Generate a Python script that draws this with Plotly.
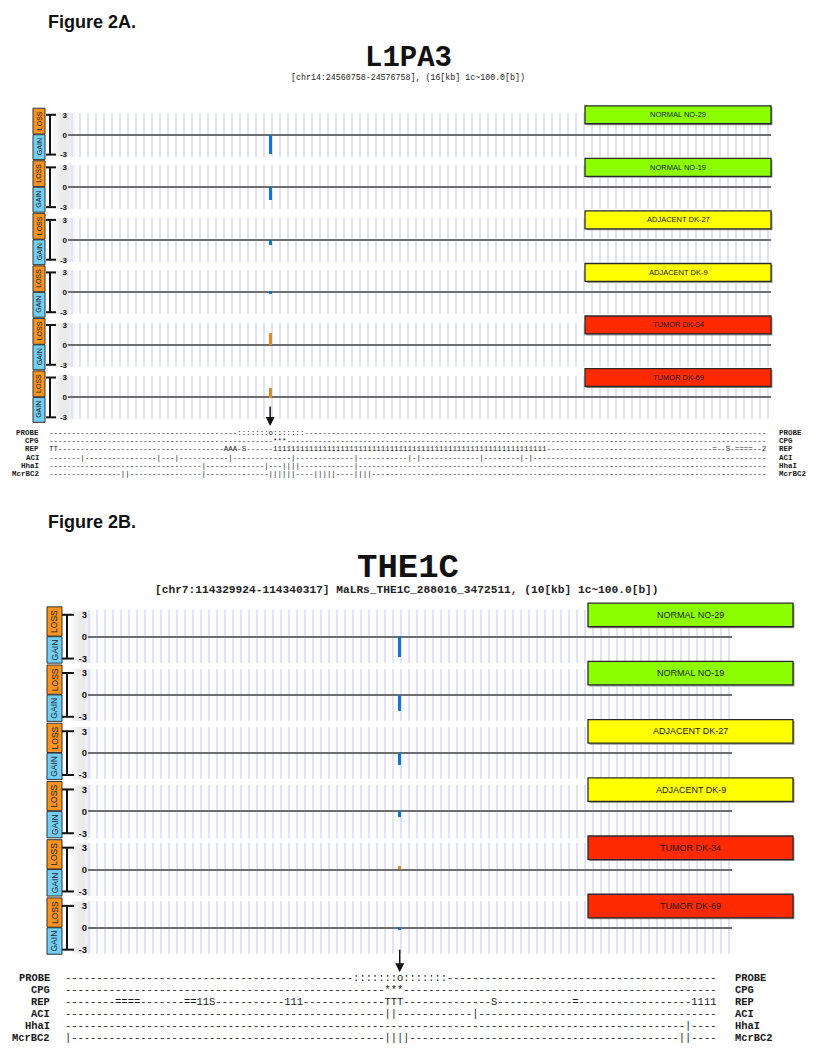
import plotly.graph_objects as go

# page offset: the browser body has an 8px margin, so the figure is sized to fit the window
OFF = 8
W, H = 816 - OFF, 1050 - OFF

# ---------------- data ----------------
SAMPLES = ["NORMAL NO-29", "NORMAL NO-19", "ADJACENT DK-27",
           "ADJACENT DK-9", "TUMOR DK-34", "TUMOR DK-69"]
SAMPLE_COLORS = ["#8cff00", "#8cff00", "#ffff00", "#ffff00", "#ff2a00", "#ff2a00"]

A_TITLE = "L1PA3"
A_SUB = "[chr14:24560758-24576758], (16[kb] 1c~100.0[b])"
A_PROBE_POS = [49.5]                      # position in 100-bp characters
A_VALUES = [-2.9, -1.95, -0.7, -0.3, 1.8, 1.5]

B_TITLE = "THE1C"
B_SUB = "[chr7:114329924-114340317] MaLRs_THE1C_288016_3472511, (10[kb] 1c~100.0[b])"
B_PROBE_POS = [53.5]
B_VALUES = [-2.8, -2.2, -1.6, -0.8, 0.5, -0.4]

TICK_VALS = [-3, 0, 3]
TICK_TEXT = ["-3", "0", "3"]
ROW_LABELS = ["PROBE", "CPG", "REP", "ACI", "HhaI", "McrBC2"]

A_LEN = 160
A_PROBE_MARKS = [(42, ":::::::o:::::::")]
A_CPG_MARKS = [(50, "***")]
A_REP_MARKS = [(0, "TT"), (39, "AAA-S"), (50, "1" * 61), (148, "=--S-====--2")]
A_ACI_CUTS = [7, 24, 28, 40, 54, 68, 80, 82, 96, 105, 107]
A_HHAI_CUTS = [34, 48, 52, 53, 54, 55, 68]
A_MCR_CUTS = [16, 17, 34, 49, 50, 51, 52, 53, 54, 59, 60, 61, 62, 63, 68, 69, 70, 71]

B_LEN = 104
B_PROBE_MARKS = [(46, ":::::::o:::::::")]
B_CPG_MARKS = [(51, "***")]
B_REP_MARKS = [(8, "===="), (19, "==11S"), (35, "111"), (51, "TTT"),
               (68, "S"), (81, "="), (100, "1111")]
B_ACI_CUTS = [51, 52, 65]
B_HHAI_CUTS = [99]
B_MCR_CUTS = [0, 51, 52, 53, 54, 98, 99]


def track(n, marks):
    s = ["-"] * n
    for pos, txt in marks:
        for k, ch in enumerate(txt):
            s[pos + k] = ch
    return "".join(s)


def cuts(n, positions):
    return track(n, [(p, "|") for p in positions])


A_ROWS = [track(A_LEN, A_PROBE_MARKS), track(A_LEN, A_CPG_MARKS), track(A_LEN, A_REP_MARKS),
          cuts(A_LEN, A_ACI_CUTS), cuts(A_LEN, A_HHAI_CUTS), cuts(A_LEN, A_MCR_CUTS)]
B_ROWS = [track(B_LEN, B_PROBE_MARKS), track(B_LEN, B_CPG_MARKS), track(B_LEN, B_REP_MARKS),
          cuts(B_LEN, B_ACI_CUTS), cuts(B_LEN, B_HHAI_CUTS), cuts(B_LEN, B_MCR_CUTS)]


# ---------------- layout helpers (window pixel -> paper) ----------------
def PX(p):
    return (p - OFF) / W


def PY(p):
    return 1 - (p - OFF) / H


MONO = "Liberation Mono, Courier New, monospace"
SANS = "Liberation Sans, Arial, Helvetica, sans-serif"
BLUE = "#0a78d6"
ORANGE = "#e48a1c"
LOSS_C = "#f7931e"
GAIN_C = "#72cff3"
GRID_C = "#e2e2f7"

panels = [
    dict(values=A_VALUES, pos=A_PROBE_POS, z0=133.3, dz=52.8, half=22, rng=3.3,
         xdom=(68, 771), char0=48.0, cw=4.4875, grid0=767.7, bw=0.7,
         box=(33, 45), lossTop=26.6, gainBot=25, brX=50, brHalf=20, brT=(46, 56),
         leg=(585, 771), legT=29, legB=11, legFont=7.5, lgFont=7, tickFont=8,
         haze=(52, 78)),
    dict(values=B_VALUES, pos=B_PROBE_POS, z0=637.7, dz=58.5, half=26.5, rng=3.61,
         xdom=(88, 732), char0=64.3, cw=6.27, grid0=89.3, bw=0.5,
         box=(47, 62), lossTop=30, gainBot=26.6, brX=67, brHalf=22, brT=(62, 74),
         leg=(588, 793), legT=33.7, legB=10, legFont=9, lgFont=8.5, tickFont=9.5,
         haze=(70, 94)),
]

fig = go.Figure()
layout = {}
shapes = []
annotations = []


def note(text, x, y, font, xanchor="center", yanchor="middle", **kw):
    d = dict(text=text, x=x, y=y, xref="paper", yref="paper", showarrow=False,
             xanchor=xanchor, yanchor=yanchor, font=font, borderpad=0)
    d.update(kw)
    annotations.append(d)


for pi, P in enumerate(panels):
    xname = "x" if pi == 0 else "x2"
    xkey = "xaxis" if pi == 0 else "xaxis2"
    r0 = (P["xdom"][0] - P["char0"]) / P["cw"]
    r1 = (P["xdom"][1] - P["char0"]) / P["cw"]
    last_axis = None
    for ti in range(6):
        k = pi * 6 + ti + 1
        yname = "y" if k == 1 else f"y{k}"
        ykey = "yaxis" if k == 1 else f"yaxis{k}"
        z = P["z0"] + P["dz"] * ti
        layout[ykey] = dict(
            domain=[PY(z + P["half"]), PY(z - P["half"])],
            range=[-P["rng"], P["rng"]], anchor=xname,
            tickmode="array", tickvals=TICK_VALS, ticktext=TICK_TEXT,
            ticks="", showgrid=False, zeroline=True, zerolinecolor="#6e6e6e",
            zerolinewidth=1.5, showline=False, fixedrange=True,
            tickfont=dict(family=SANS, size=P["tickFont"], color="#111", weight="bold"),
        )
        last_axis = yname
        v = P["values"][ti]
        fig.add_trace(go.Bar(
            x=P["pos"], y=[v], width=P["bw"], xaxis=xname, yaxis=yname,
            marker=dict(color=BLUE if v < 0 else ORANGE, line=dict(width=0)),
            showlegend=False, hoverinfo="skip"))

        # soft grey haze left of the plotting area
        hx0, hx1 = P["haze"]
        for j in range(4):
            shapes.append(dict(type="rect", xref="paper", yref="paper", layer="below",
                               x0=PX(hx0 + 2.5 * j), x1=PX(hx1 - 3 * j),
                               y0=PY(z + P["half"]), y1=PY(z - P["half"]),
                               fillcolor="rgba(0,0,0,0.018)", line=dict(width=0)))

        # LOSS / GAIN boxes
        bx0, bx1 = P["box"]
        bxc = PX((bx0 + bx1) / 2)
        shapes.append(dict(type="rect", xref="paper", yref="paper",
                           x0=PX(bx0), x1=PX(bx1), y0=PY(z - 0.6), y1=PY(z - P["lossTop"]),
                           fillcolor=LOSS_C, line=dict(color="#333", width=1)))
        shapes.append(dict(type="rect", xref="paper", yref="paper",
                           x0=PX(bx0), x1=PX(bx1), y0=PY(z + P["gainBot"]), y1=PY(z),
                           fillcolor=GAIN_C, line=dict(color="#333", width=1)))
        note("LOSS", bxc, PY(z - P["lossTop"] / 2 - 0.3),
             dict(family=SANS, size=P["lgFont"], color="#222"), textangle=-90)
        note("GAIN", bxc, PY(z + P["gainBot"] / 2),
             dict(family=SANS, size=P["lgFont"], color="#222"), textangle=-90)
        # bracket
        bxl = P["brX"]
        shapes.append(dict(type="line", xref="paper", yref="paper", x0=PX(bxl), x1=PX(bxl),
                           y0=PY(z - P["brHalf"]), y1=PY(z + P["brHalf"]),
                           line=dict(color="#111", width=2)))
        for yy in (z - P["brHalf"], z + P["brHalf"]):
            shapes.append(dict(type="line", xref="paper", yref="paper",
                               x0=PX(P["brT"][0]), x1=PX(P["brT"][1]), y0=PY(yy), y1=PY(yy),
                               line=dict(color="#111", width=2)))
        # sample legend box
        lx0, lx1 = P["leg"]
        shapes.append(dict(type="rect", xref="paper", yref="paper",
                           x0=PX(lx0 + 1.5), x1=PX(lx1 + 1.5), y0=PY(z - P["legB"] + 1.5),
                           y1=PY(z - P["legT"] + 1.5), fillcolor="#9a9a9a", line=dict(width=0)))
        shapes.append(dict(type="rect", xref="paper", yref="paper",
                           x0=PX(lx0), x1=PX(lx1), y0=PY(z - P["legB"]), y1=PY(z - P["legT"]),
                           fillcolor=SAMPLE_COLORS[ti], line=dict(color="#2a2a2a", width=1.3)))
        note(SAMPLES[ti], PX((lx0 + lx1) / 2), PY(z - (P["legT"] + P["legB"]) / 2),
             dict(family=SANS, size=P["legFont"], color="#1a1a1a"))

    gstart = (P["grid0"] - P["char0"]) / P["cw"]
    layout[xkey] = dict(domain=[PX(P["xdom"][0]), PX(P["xdom"][1])], range=[r0, r1],
                        anchor=last_axis, showticklabels=False, ticks="", showline=False,
                        zeroline=False, showgrid=True, gridcolor=GRID_C, gridwidth=1.6,
                        tick0=gstart, dtick=8 / P["cw"], fixedrange=True)


# ---------------- sequence annotation rows ----------------
def add_rows(rows, y0, dy, lab_right, seq_left, lab2_left, size, lab_bold):
    for r, (lab, s) in enumerate(zip(ROW_LABELS, rows)):
        y = PY(y0 + dy * r)
        f = dict(family=MONO, size=size, color="#1a1a1a")
        fl = dict(family=MONO, size=size, color="#1a1a1a", weight="bold" if lab_bold else "normal")
        note(lab, PX(lab_right), y, fl, xanchor="right")
        note(s, PX(seq_left), y, f, xanchor="left")
        note(lab, PX(lab2_left), y, fl, xanchor="left")


add_rows(A_ROWS, 432.7, 8.4, 39.5, 48.0, 777.5, 7.48, True)
add_rows(B_ROWS, 981.0, 11.95, 51.0, 64.3, 734.0, 10.45, True)

# ---------------- titles ----------------
note("<b>Figure 2A.</b>", PX(47), PY(20), dict(family=SANS, size=18, color="#111"), xanchor="left")
note("<b>Figure 2B.</b>", PX(47), PY(522), dict(family=SANS, size=18, color="#111"), xanchor="left")
note("<b>" + A_TITLE + "</b>", PX(408), PY(56.5), dict(family=MONO, size=29, color="#111"))
note(A_SUB, PX(408), PY(76), dict(family=MONO, size=8.3, color="#222"))
note("<b>" + B_TITLE + "</b>", PX(408), PY(569), dict(family=MONO, size=34, color="#111"))
note("<b>" + B_SUB + "</b>", PX(407), PY(591), dict(family=MONO, size=11.2, color="#222"))

# probe arrows (pointing at the probe position on the sequence rows)
annotations.append(dict(text="", x=A_PROBE_POS[0], y=PY(426), xref="x", yref="paper",
                        ax=0, ay=-21, showarrow=True, arrowhead=2, arrowsize=1.2,
                        arrowwidth=1.5, arrowcolor="#111", standoff=0))
annotations.append(dict(text="", x=B_PROBE_POS[0], y=PY(975), xref="x2", yref="paper",
                        ax=0, ay=-24, showarrow=True, arrowhead=2, arrowsize=1.2,
                        arrowwidth=1.5, arrowcolor="#111", standoff=0))

fig.update_layout(
    width=W, height=H, margin=dict(l=0, r=0, t=0, b=0),
    paper_bgcolor="white", plot_bgcolor="rgba(0,0,0,0)",
    showlegend=False, bargap=0, shapes=shapes, annotations=annotations,
    **layout,
)

fig.write_html("out.html")
